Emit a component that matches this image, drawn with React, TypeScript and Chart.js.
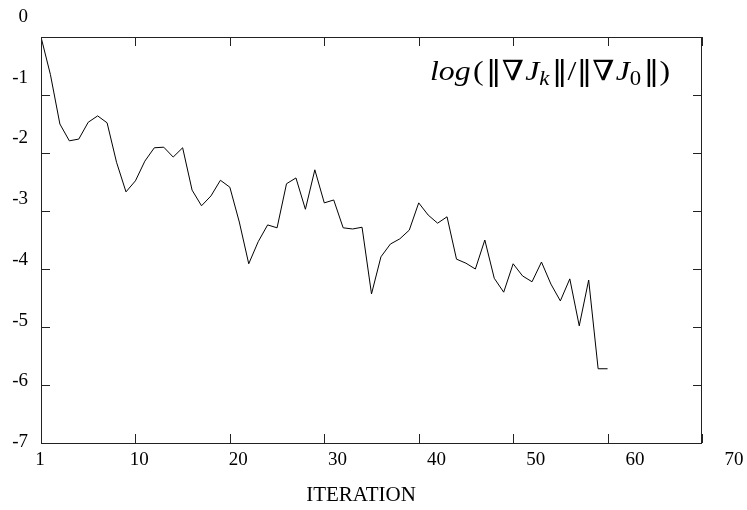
import React, { useEffect, useRef } from "react";
import { Chart, registerables } from "chart.js";

Chart.register(...registerables);

// Iteration index (0 = first iteration, labelled "1")
const iterations = [
  0, 1, 2, 3, 4, 5, 6, 7, 8, 9, 10, 11, 12, 13, 14, 15, 16, 17, 18, 19, 20,
  21, 22, 23, 24, 25, 26, 27, 28, 29, 30, 31, 32, 33, 34, 35, 36, 37, 38, 39, 40,
  41, 42, 43, 44, 45, 46, 47, 48, 49, 50, 51, 52, 53, 54, 55, 56, 57, 58, 59, 60,
];

// log(||grad J_k|| / ||grad J_0||)
const logGradRatio = [
  0, -0.65, -1.5, -1.79, -1.76, -1.47, -1.36, -1.48, -2.16, -2.67, -2.48,
  -2.14, -1.91, -1.9, -2.07, -1.91, -2.64, -2.91, -2.74, -2.47, -2.59,
  -3.19, -3.91, -3.53, -3.24, -3.29, -2.53, -2.43, -2.97, -2.29, -2.86,
  -2.81, -3.29, -3.31, -3.28, -4.43, -3.79, -3.57, -3.48, -3.33, -2.86,
  -3.07, -3.21, -3.1, -3.83, -3.9, -4.0, -3.5, -4.16, -4.4, -3.91,
  -4.12, -4.22, -3.88, -4.26, -4.55, -4.17, -4.98, -4.19, -5.72, -5.72,
];

const xTickValues = [0, 10, 20, 30, 40, 50, 60, 70];
const xTickLabels = ["1", "10", "20", "30", "40", "50", "60", "70"];
const yTickValues = [0, -1, -2, -3, -4, -5, -6, -7];
const yTickLabels = ["0", "-1", "-2", "-3", "-4", "-5", "-6", "-7"];

const xAxisTitle = "ITERATION";

const SERIF = '"Liberation Serif", "DejaVu Serif", serif';
const SYM = '"DejaVu Serif", "Liberation Serif", serif';

const framePlugin = {
  id: "frame",
  afterDraw(chart: any) {
    const { ctx, chartArea } = chart;
    const { left, right, top, bottom } = chartArea;
    const xs = chart.scales.x;
    const ys = chart.scales.y;
    ctx.save();
    ctx.strokeStyle = "#222";
    ctx.lineWidth = 1;
    ctx.strokeRect(left + 0.5, top + 0.5, right - left - 1, bottom - top);

    const tl = 9;
    ctx.beginPath();
    xTickValues.forEach((v) => {
      const px = Math.round(xs.getPixelForValue(v)) + 0.5;
      ctx.moveTo(px, bottom);
      ctx.lineTo(px, bottom - tl);
      ctx.moveTo(px, top);
      ctx.lineTo(px, top + tl);
    });
    yTickValues.forEach((v) => {
      const py = Math.round(ys.getPixelForValue(v)) + 0.5;
      ctx.moveTo(left, py);
      ctx.lineTo(left + tl, py);
      ctx.moveTo(right, py);
      ctx.lineTo(right - tl, py);
    });
    ctx.stroke();

    // tick labels (slightly stretched label grid, as in the original)
    const k = 1.05;
    ctx.fillStyle = "#000";
    ctx.font = `19px ${SERIF}`;
    ctx.textAlign = "center";
    ctx.textBaseline = "middle";
    xTickValues.forEach((v, i) => {
      const px = xs.getPixelForValue(v);
      const lx = left + k * (px - left) - 1;
      ctx.fillText(xTickLabels[i], lx, 460);
    });
    ctx.textAlign = "right";
    yTickValues.forEach((v, i) => {
      const py = ys.getPixelForValue(v);
      const ly = bottom - 1.047 * (bottom - py) - 1;
      ctx.fillText(yTickLabels[i], 28, ly);
    });

    // axis title
    ctx.font = `21px ${SERIF}`;
    ctx.textAlign = "center";
    ctx.fillText(xAxisTitle, 361, 495);

    // curve label
    const size = 28;
    const sub = Math.round(size * 0.7);
    const segs: Array<{ t: string; f: string; dy?: number; gap?: number }> = [
      { t: "log", f: `italic ${size}px ${SERIF}`, gap: 2 },
      { t: "(", f: `${size}px ${SERIF}`, gap: 2 },
      { t: "\u2016\u2207", f: `${size}px ${SYM}`, gap: 1 },
      { t: "J", f: `italic ${size}px ${SERIF}`, gap: 0 },
      { t: "k", f: `italic ${sub}px ${SERIF}`, dy: 5, gap: 2 },
      { t: "\u2016", f: `${size}px ${SYM}`, gap: 0 },
      { t: "/", f: `${size}px ${SERIF}`, gap: 0 },
      { t: "\u2016\u2207", f: `${size}px ${SYM}`, gap: 1 },
      { t: "J", f: `italic ${size}px ${SERIF}`, gap: 0 },
      { t: "0", f: `${sub}px ${SERIF}`, dy: 5, gap: 2 },
      { t: "\u2016", f: `${size}px ${SYM}`, gap: 0 },
      { t: ")", f: `${size}px ${SERIF}`, gap: 0 },
    ];
    ctx.textAlign = "left";
    ctx.textBaseline = "alphabetic";
    let total = 0;
    segs.forEach((s) => {
      ctx.font = s.f;
      total += ctx.measureText(s.t).width + (s.gap || 0);
    });
    const targetW = 240;
    const sx = targetW / total;
    const base = 80;
    ctx.translate(670 - targetW, base);
    ctx.scale(sx, 1);
    let x0 = 0;
    segs.forEach((s) => {
      ctx.font = s.f;
      ctx.fillText(s.t, x0, s.dy || 0);
      x0 += ctx.measureText(s.t).width + (s.gap || 0);
    });
    ctx.restore();
  },
};

export default function App() {
  const ref = useRef<HTMLCanvasElement | null>(null);
  useEffect(() => {
    if (!ref.current) return;
    const chart = new Chart(ref.current, {
      type: "line",
      data: {
        datasets: [
          {
            data: iterations.map((it, i) => ({ x: it, y: logGradRatio[i] })),
            borderColor: "#000",
            borderWidth: 1,
            pointRadius: 0,
            tension: 0,
            fill: false,
          },
        ],
      },
      options: {
        animation: false,
        responsive: false,
        maintainAspectRatio: false,
        layout: { padding: { left: 41, top: 37, right: 45, bottom: 67 } },
        plugins: {
          legend: { display: false },
          tooltip: { enabled: false },
          title: { display: false },
        },
        scales: {
          x: { type: "linear", min: 0, max: 70, display: false },
          y: { type: "linear", min: -7, max: 0, display: false },
        },
      },
      plugins: [framePlugin],
    });
    return () => chart.destroy();
  }, []);
  return (
    <div style={{ position: "fixed", left: 0, top: 0, width: 747, height: 510, background: "#fff" }}>
      <canvas ref={ref} width={747} height={510} style={{ width: 747, height: 510 }} />
    </div>
  );
}
